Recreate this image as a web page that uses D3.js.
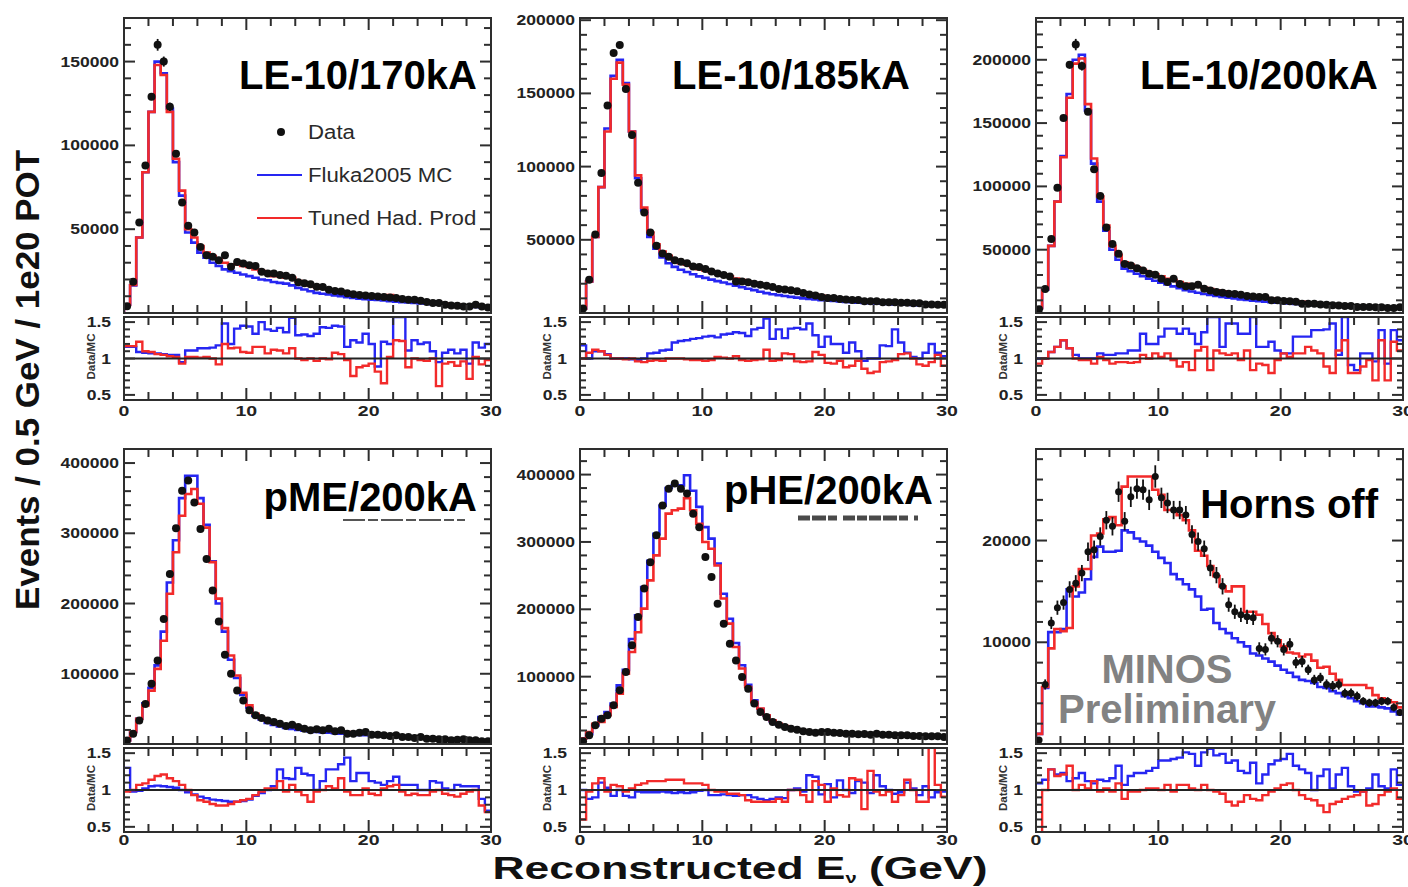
<!DOCTYPE html>
<html><head><meta charset="utf-8">
<script src="https://cdn.jsdelivr.net/npm/d3@7"></script>
<style>
body{margin:0;background:#fff}
svg{display:block;font-family:"Liberation Sans",Arial,Helvetica,sans-serif}
</style></head>
<body><svg id="chart" width="1408" height="887"></svg>
<script>
// ---------------- DATA (events per 0.5 GeV bin, in thousands; 60 bins, 0–30 GeV) ----------------
const binLow = d3.range(0, 30, 0.5);           // bin lower edges (GeV)
const xTickValues = [0, 10, 20, 30];
const ratioTickValues = [0.5, 1, 1.5];

// LE-10/170kA
const data170 = [4,18.7,54,88,129,160,150,123,95,66,52,48,39.4,34.5,33.5,31.5,34.5,27.6,30.5,29.5,28.5,28,24.6,23.6,23.6,22.6,22.2,21,18.3,17.7,17.1,15.7,15.5,13.8,13.2,12.8,11.8,11.2,10.8,10.4,10.2,9.8,9.6,9.3,8.9,8.3,7.9,7.9,7.3,6.5,5.9,5.9,4.9,4.5,4.3,3.9,3.9,4.9,3.9,3.3];
const tuned170 = [5,16.7,45,84,120,148,142,120,92,73,50,45,40,36,34,32,30,29,29,28,27.5,26,25,24,22,22,21,21,19,18,16.5,15.5,14.5,14,13.5,13,12.3,11.8,11.2,10.8,10.4,10.2,9.9,10.7,9.0,8.5,8.2,7.8,7.3,6.8,6.3,6.0,5.6,5.2,4.9,4.6,4.3,4.1,3.8,3.5];
const fluka170 = [5,16.5,45,84,120,150,143,122,90,70,48,42,36,33,30,28,26,25,24,23,22,21,20,19.5,18.5,18,17.5,16.5,15,14,13,12,11.5,11,10.5,10,9.5,9,8.5,8.2,8,7.8,7.5,7,6.8,6.5,6.3,6,5.7,5.5,5.2,5,4.7,4.4,4.2,4.0,3.7,3.6,3.4,3.2];
const ratioFluka170 = [1.16,1.16,1.09,1.08,1.07,1.07,1.06,1.05,1.05,0.95,1.11,1.11,1.14,1.14,1.15,1.18,1.48,1.2,1.41,1.45,1.44,1.34,1.5,1.4,1.38,1.42,1.36,1.56,1.32,1.33,1.31,1.34,1.43,1.42,1.45,1.44,1.16,1.25,1.22,1.34,1.2,0.89,1.23,1.2,1.57,1.57,1.11,1.25,1.2,1.22,1.1,0.95,1.08,1.12,1.07,1.12,0.93,1.22,1.15,1.2];
const ratioTuned170 = [1.17,1.17,1.23,1.1,1.09,1.06,1.05,1.03,1.02,0.93,1.02,1.02,1.01,1.02,1.0,0.92,1.2,1.14,1.15,1.09,1.08,1.16,1.16,1.07,1.12,1.11,1.07,1.14,1.0,0.98,1.0,0.97,1.0,0.99,1.08,1.06,0.98,0.76,0.88,0.9,0.93,0.82,0.66,1.02,1.25,1.24,0.88,1.0,0.98,0.97,1.0,0.62,0.93,0.95,0.9,0.96,0.72,1.02,0.92,0.98];
const err170 = [0,0,0,0,2,3.5,3,2.5,0,0,0,0,0,0,0,0,0,0,0,0,0,0,0,0,0,0,0,0,0,0,0,0,0,0,0,0,0,0,0,0,0,0,0,0,0,0,0,0,0,0,0,0,0,0,0,0,0,0,0,0];

// LE-10/185kA
const data185 = [3,22.7,53.7,95.7,141.7,177.6,183,153,121.5,89,68.7,55,46,40.6,38.4,36,35,34,31.7,31.5,30,28.3,27,26,25,21.6,21.5,21,20,19.3,18.6,17.7,16.4,16,15.5,14.8,13.7,12.6,12,11,10.3,10.2,9.6,9.2,8.9,8.8,8.1,8.1,8.0,7.4,7.4,7.3,7.0,7.0,6.6,6.6,5.8,5.8,5.7,5.6];
const tuned185 = [3,21.5,52,86,124,160,171,156,124,94,72,55,47,42,39,36,34,33,31.5,30,29,28,27,26,25,23.5,22.5,21.5,20.5,19.5,18.5,17.5,16.8,16,15.3,14.6,13.8,13,12.4,11.8,11.2,10.7,10.2,9.7,9.3,9.0,8.6,8.2,7.9,7.6,7.3,7.0,6.8,6.6,6.4,6.2,6.0,5.8,5.6,5.5];
const fluka185 = [3,21.5,52,86,126,162,173,157,124,92,70,52,44,38,34,31.5,29.5,28,26.5,25,24,22.8,21.8,20.8,19.8,18.6,17.6,16.6,15.6,14.5,13.6,12.8,12.2,11.6,11,10.5,10,9.6,9.2,8.8,8.5,8.2,7.9,7.6,7.3,7.1,6.9,6.7,6.5,6.3,6.1,5.9,5.7,5.6,5.5,5.4,5.3,5.2,5.1,5.0];
const ratioFluka185 = [1.18,1.0,1.1,1.1,1.06,1.0,1.0,1.0,0.99,0.98,1.0,1.07,1.08,1.11,1.12,1.22,1.24,1.25,1.27,1.28,1.3,1.31,1.29,1.33,1.34,1.36,1.35,1.31,1.4,1.42,1.55,1.27,1.4,1.28,1.41,1.42,1.4,1.48,1.32,1.16,1.3,1.2,1.2,1.08,1.22,1.1,0.97,1.0,1.0,1.18,1.17,1.4,1.22,1.08,1.02,1.0,1.08,1.2,1.08,1.03];
const ratioTuned185 = [1.0,1.08,1.12,1.1,1.05,1.0,1.0,0.99,1.0,0.96,0.95,0.97,0.98,0.97,1.0,1.0,1.0,0.99,0.98,0.98,0.97,0.98,1.02,1.01,1.0,1.03,0.98,0.97,0.98,0.99,1.12,0.97,0.98,1.07,1.06,0.96,0.95,0.96,1.09,1.05,0.94,0.93,0.97,0.88,0.9,0.97,0.86,0.8,0.82,0.95,0.96,0.98,1.06,1.07,1.0,0.92,0.9,0.95,1.05,0.9];

// LE-10/200kA
const data200 = [3,19,58.5,99,154,196,212,195,159,113.5,92.5,67.6,54.5,46.7,38.8,37.5,35.4,33.6,31,30.2,27,24.4,27,23,21.2,21.2,22.3,19.1,17.8,16.5,16,15.2,15,14.4,13.4,13,12.6,12.6,10,10,9.5,9.2,8.8,7.3,7.3,7.3,6.8,6.6,6.2,6.0,5.6,5.6,4.7,4.7,4.7,4.6,4.5,4.0,4.0,4.5];
const tuned200 = [4,19,53,88,123,170,197,201,165,122,92,69,53,46,40,38,36,34,32,30.5,29,27,26,24.5,23,22,21,20,19,18,17.2,16.4,15.6,14.8,14,13.3,12.6,12,11.4,10.8,10.2,9.7,9.2,8.8,8.4,8,7.6,7.2,6.8,6.5,6.2,5.9,5.6,5.4,5.2,5.0,4.8,4.6,4.4,4.3];
const fluka200 = [4,18.5,53,88,124,173,200,204,160,118,88,65,50,42,35,33,31,29,27,25.5,24,22.5,21,19.5,18,17,16,15,14.2,13.4,12.7,12,11.4,10.8,10.3,9.8,9.3,8.9,8.5,8.1,7.8,7.5,7.2,6.9,6.6,6.4,6.1,5.9,5.6,5.4,5.2,5.0,4.8,4.6,4.4,4.3,4.1,4.0,3.9,3.8];
const ratioFluka200 = [1.0,1.0,1.09,1.16,1.25,1.14,1.05,1.0,1.0,1.0,1.07,1.05,1.05,1.07,1.07,1.11,1.11,1.34,1.2,1.2,1.3,1.41,1.41,1.34,1.41,1.34,1.2,1.36,1.57,1.57,1.16,1.48,1.48,1.34,1.34,1.57,1.16,1.16,1.23,1.11,1.07,1.07,1.3,1.3,1.3,1.39,1.39,1.4,1.48,1.05,1.57,0.91,0.84,1.07,1.07,0.96,1.39,0.93,1.39,1.25];
const ratioTuned200 = [0.93,1.0,1.09,1.16,1.25,1.14,1.0,0.98,0.98,0.93,1.02,0.98,0.93,0.95,0.95,0.94,0.95,1.05,1.0,1.07,1.02,1.07,0.98,0.89,0.95,0.84,1.11,1.16,0.84,1.11,1.07,1.05,1.07,0.98,1.11,0.84,0.93,0.91,0.8,0.98,1.07,1.02,1.07,1.07,1.16,1.11,1.07,0.89,0.8,1.11,1.25,0.8,0.8,0.89,0.98,0.7,1.25,0.7,1.23,1.11];
const err200 = [0,0,0,0,0,3,4.5,3.5,2,0,0,0,0,0,0,0,0,0,0,0,0,0,0,0,0,0,0,0,0,0,0,0,0,0,0,0,0,0,0,0,0,0,0,0,0,0,0,0,0,0,0,0,0,0,0,0,0,0,0,0];

// pME/200kA
const dataME = [5,14.7,33.6,57,85.8,119,178,242,307,360.7,375,344,306,263.5,218.5,174.4,127,100,76.3,62,47.9,40.8,37,33.6,31.3,28.9,25.6,27.5,24.2,21.8,19.4,20.9,19.4,21.8,18,19.4,14.7,14.7,16.1,17,13.3,13.3,12.3,11.4,12.3,10,10,8.5,10,7.6,7.6,6.6,6.6,5.2,6.2,6.6,5.2,5.2,3.8,3.8];
const tunedME = [5,17,36,55,76,107,147,214,273,325,356,363,342,308,259,207,165,126,97.6,73,55,43,37,33,30,28,26.5,25,23.5,22.5,21.5,20.5,19.5,19,18,17.5,17,16,15.5,15,14.2,13.5,13,12.3,11.7,11,10.4,9.8,9.3,8.8,8.3,7.8,7.3,6.9,6.5,6.1,5.7,5.3,4.9,4.5];
const flukaME = [5,17,36,58,80,112,160,230,290,350,382,382,350,312,260,200,160,120,94,70,52,40,35,30,27,25,23,21.5,20,19,18,17,16.5,16,15.3,14.8,14.2,13.6,13,12.5,12,11.6,11.2,10.8,10.3,9.9,9.5,9.1,8.7,8.3,7.9,7.5,7.1,6.7,6.3,5.9,5.5,5.1,4.8,4.4];
const ratioFlukaME = [1.3,0.98,0.99,1.02,1.05,1.06,1.05,1.04,1.03,1.0,0.97,0.94,0.91,0.89,0.87,0.86,0.85,0.84,0.84,0.85,0.87,0.92,0.96,1.0,1.05,1.28,1.16,1.15,1.3,1.22,1.2,1.0,1.12,1.28,1.28,1.35,1.44,1.12,1.23,1.23,1.12,1.1,1.07,1.12,1.18,1.07,1.07,1.07,1.0,1.0,1.12,1.1,1.02,1.0,1.07,1.05,1.05,1.05,0.88,0.72];
const ratioTunedME = [0.98,1.0,1.07,1.09,1.14,1.19,1.21,1.16,1.12,1.07,1.0,0.93,0.86,0.84,0.81,0.79,0.79,0.81,0.84,0.86,0.88,0.93,0.98,1.02,1.02,1.12,0.98,1.07,0.98,0.93,0.84,0.98,1.0,1.05,1.02,1.16,0.98,0.93,0.93,1.02,0.95,0.93,1.02,1.05,1.07,0.98,0.93,0.95,0.93,0.93,0.98,1.0,0.95,0.93,0.91,0.95,0.98,1.0,0.79,0.7];

// pHE/200kA
const dataHE = [4,12.9,27.7,37.6,42.6,57.4,79.7,107,146.5,188.6,230.7,270,310,354,379,386.6,379,371.8,342,322,277.7,248,208.4,178.7,149,124,99.5,82,60,47.5,40,32.7,28.7,25.2,22.8,21.3,18.8,17.8,16.8,17.8,17.8,16.8,16.3,15.3,15.3,14.4,14.8,13.9,15.3,13.9,13.9,12.9,12.9,12.9,11.9,11.9,11.4,11.4,11.4,10.4];
const tunedHE = [8,17.8,30,32.7,42.6,55,74.8,104.5,136.6,166,201,243,280,305,342,347,349.5,365,347,327,300,290,265,216,178.7,144,112,84.7,62.4,52.5,42.6,35,30,26.7,22.8,21.3,19.8,18.5,18,17.6,17.3,17,16.6,16.3,16,15.5,15.2,14.8,14.5,14.2,13.9,13.6,13.3,13,12.7,12.5,12.2,11.9,11.6,11.4];
const flukaHE = [8,15,27.7,40,47.5,60,87,110,156,191,233,272,312,354,380,384,384,399,376,352,322,305,268,223,186,150,117,88,65,52,42,34,29,26,23,21.5,20,19,18.4,17.6,17.2,17,16.6,16.3,16,15.6,15.2,14.9,14.6,14.3,14,13.7,13.4,13.1,12.8,12.5,12.2,11.9,11.6,11.3];
const ratioFlukaHE = [1.0,0.88,0.9,1.1,1.03,0.92,1.0,0.92,0.9,0.98,0.97,0.97,0.97,0.98,0.97,0.96,0.97,0.96,0.97,0.99,1.0,0.93,0.93,0.94,0.93,0.92,0.93,0.93,0.9,0.88,0.86,0.88,0.9,0.89,1.0,1.02,0.98,1.2,1.18,0.94,1.08,0.9,1.13,1.0,0.96,1.12,1.1,0.96,1.2,1.05,1.0,0.95,0.97,1.1,1.02,0.93,1.05,0.9,0.97,0.98];
const ratioTunedHE = [0.6,0.98,1.09,1.16,0.98,1.07,1.05,0.98,1.02,1.07,1.09,1.12,1.12,1.12,1.14,1.14,1.14,1.09,1.09,1.09,1.07,1.0,0.98,0.98,0.95,0.95,0.93,0.86,0.84,0.84,0.84,0.84,0.88,0.84,1.0,1.0,0.93,0.84,1.12,1.07,0.84,1.02,0.93,0.91,1.16,1.14,0.74,1.26,0.98,0.93,0.98,0.84,0.93,1.14,1.0,0.84,0.84,1.7,1.07,0.91];

// Horns off
const dataOff = [0.4,5.85,11.9,13.4,13.9,15.2,15.8,16.8,18.9,19.1,20.4,22,21.4,24.8,21.9,24.3,25.1,25,24,26.3,24.2,23.7,23,23,22.5,20.6,19.9,19.2,17.3,16.6,15.5,13.7,13,12.7,12.5,12.4,9.4,9.3,10.4,10.1,9.3,9.8,8,8.1,7.3,6.3,6.5,5.85,5.7,5.85,5.0,5.0,4.7,4.2,4.05,4.05,4.2,4.2,3.6,3.1];
const tunedOff = [1.0,5.6,9.4,11.3,11.1,11.4,15.5,17.2,17.2,20.5,20.7,22.1,22.3,21.5,25.3,26.3,26.3,26.3,26.3,25,24.5,23,23,22.5,22,21,19,18.5,17.5,16.5,15.5,15,15.5,15.5,13,13,12.7,11.8,10.9,10.2,9.6,9.0,8.9,8.6,8.8,8.2,7.5,7.6,6.9,6.3,5.8,5.8,5.8,5.8,5.5,4.8,4.5,4.3,4.1,3.6];
const flukaOff = [1.0,5.5,11.0,11.0,11.3,15.2,14.5,14.9,16.2,18.4,19.4,18.9,18.9,19.0,21.0,20.8,20.2,19.9,19.5,18.9,18.3,17.8,16.7,16.2,15.7,15.2,14.5,13.2,13.3,11.9,11.3,10.9,10.4,10.0,9.6,8.9,8.7,8.4,8.1,7.7,7.3,7.0,6.6,6.3,6.2,6.0,5.6,5.5,5.2,5.0,4.7,4.5,4.2,4.0,3.7,3.7,3.6,3.5,3.2,2.9];
const ratioFlukaOff = [1.09,1.14,1.28,1.21,1.23,1.12,1.16,1.23,1.12,1.09,1.14,1.12,1.16,1.33,1.07,1.19,1.23,1.23,1.26,1.3,1.4,1.4,1.42,1.44,1.51,1.49,1.33,1.51,1.56,1.47,1.49,1.37,1.4,1.26,1.23,1.37,1.09,1.21,1.35,1.4,1.42,1.49,1.33,1.28,1.23,1.0,1.19,1.28,1.02,1.21,1.3,1.05,0.98,0.98,1.02,1.21,1.05,1.02,1.28,1.07];
const ratioTunedOff = [0.42,1.0,1.28,1.19,1.21,1.33,1.0,1.07,1.02,1.12,0.98,1.02,0.98,1.09,0.88,0.98,0.98,1.0,1.02,1.02,1.0,1.07,0.98,1.07,1.07,1.02,1.0,1.07,1.0,0.98,0.95,0.84,0.79,0.84,0.93,0.88,0.86,0.93,0.98,1.02,1.07,1.09,1.0,0.93,0.88,0.86,0.79,0.7,0.81,0.84,0.88,0.91,0.93,0.98,0.79,0.81,0.93,0.98,1.02,0.88];
const errOff = [0.3,0.5,0.6,0.7,0.7,0.8,0.8,0.8,0.9,0.9,0.9,0.9,0.9,1.0,0.9,1.0,1.0,1.0,1.0,1.1,1.0,1.0,0.9,0.9,0.9,0.9,0.9,0.8,0.8,0.8,0.8,0.7,0.7,0.7,0.7,0.7,0.6,0.6,0.6,0.6,0.6,0.6,0.55,0.55,0.5,0.5,0.5,0.5,0.5,0.5,0.45,0.45,0.45,0.4,0.4,0.4,0.4,0.4,0.4,0.35];

// y tick labels (thousands of events) per panel
const yTicks170 = [50,100,150], yTicks185 = [50,100,150,200], yTicks200 = [50,100,150,200];
const yTicksME = [100,200,300,400], yTicksHE = [100,200,300,400], yTicksOff = [10,20];

const titles = ["LE-10/170kA","LE-10/185kA","LE-10/200kA","pME/200kA","pHE/200kA","Horns off"];
const legendLabels = ["Data","Fluka2005 MC","Tuned Had. Prod"];

// ---------------- LAYOUT ----------------
const BLUE = "#2626f2", RED = "#f22a2a", FRAME = "#2e2e2e";
const panels = [
  {data:data170, fluka:fluka170, tuned:tuned170, rF:ratioFluka170, rT:ratioTuned170, err:err170, ticks:yTicks170, yMax:176, minor:10, tx:477, ty:89, r:4},
  {data:data185, fluka:fluka185, tuned:tuned185, rF:ratioFluka185, rT:ratioTuned185, err:null, ticks:yTicks185, yMax:201.5, minor:10, tx:910, ty:89, r:4},
  {data:data200, fluka:fluka200, tuned:tuned200, rF:ratioFluka200, rT:ratioTuned200, err:err200, ticks:yTicks200, yMax:233, minor:10, tx:1378, ty:89, r:4},
  {data:dataME, fluka:flukaME, tuned:tunedME, rF:ratioFlukaME, rT:ratioTunedME, err:null, ticks:yTicksME, yMax:420, minor:20, tx:477, ty:511, r:4},
  {data:dataHE, fluka:flukaHE, tuned:tunedHE, rF:ratioFlukaHE, rT:ratioTunedHE, err:null, ticks:yTicksHE, yMax:438, minor:20, tx:933, ty:504, r:4},
  {data:dataOff, fluka:flukaOff, tuned:tunedOff, rF:ratioFlukaOff, rT:ratioTunedOff, err:errOff, ticks:yTicksOff, yMax:29, minor:2, tx:1378, ty:518, r:3.5}
];
const colX = [124, 580, 1036], W = 367;
const rowY = [{top:18, mainBot:313, rTop:317, rBot:400, lab:416}, {top:449, mainBot:744, rTop:748, rBot:832, lab:845}];

const svg = d3.select("#chart");
const defs = svg.append("defs");

function stretch(sel, f){
  sel.each(function(){
    const L = this.getComputedTextLength();
    d3.select(this).attr("textLength", L*f).attr("lengthAdjust","spacingAndGlyphs");
  });
}

panels.forEach((p, i) => {
  const x0 = colX[i%3], x1 = x0 + W, R = rowY[Math.floor(i/3)];
  const x = d3.scaleLinear().domain([0,30]).range([x0,x1]);
  const y = d3.scaleLinear().domain([0,p.yMax]).range([R.mainBot,R.top]);
  const yr = d3.scaleLinear().domain([0.43,1.57]).range([R.rBot,R.rTop]);
  const g = svg.append("g");

  defs.append("clipPath").attr("id","cm"+i).append("rect")
    .attr("x",x0).attr("y",R.top).attr("width",W).attr("height",R.mainBot-R.top);
  defs.append("clipPath").attr("id","cr"+i).append("rect")
    .attr("x",x0).attr("y",R.rTop).attr("width",W).attr("height",R.rBot-R.rTop);

  const step = (vals, ys, start) => {
    const pts = vals.map((v,k)=>[binLow[k], v]);
    pts.push([30, vals[vals.length-1]]);
    if (start !== undefined) pts.unshift([0,start]);
    return d3.line().x(d=>x(d[0])).y(d=>ys(d[1])).curve(d3.curveStepAfter)(pts);
  };

  // main histograms
  const gm = g.append("g").attr("clip-path",`url(#cm${i})`);
  gm.append("path").attr("d",step(p.fluka,y,0)).attr("fill","none").attr("stroke",BLUE).attr("stroke-width",2.6);
  gm.append("path").attr("d",step(p.tuned,y,0)).attr("fill","none").attr("stroke",RED).attr("stroke-width",2.6);
  // data with error bars
  const cx = k => x(binLow[k] + 0.25);
  if (p.err) {
    gm.selectAll(".eb").data(p.data).join("line")
      .attr("x1",(d,k)=>cx(k)).attr("x2",(d,k)=>cx(k))
      .attr("y1",(d,k)=>y(d - p.err[k])).attr("y2",(d,k)=>y(d + p.err[k]))
      .attr("stroke","#111").attr("stroke-width",1.8);
  }
  gm.selectAll(".pt").data(p.data).join("circle")
    .attr("cx",(d,k)=>cx(k)).attr("cy",d=>y(d)).attr("r",p.r).attr("fill","#111");

  // ratio histograms
  const gr = g.append("g").attr("clip-path",`url(#cr${i})`);
  gr.append("path").attr("d",step(p.rF,yr)).attr("fill","none").attr("stroke",BLUE).attr("stroke-width",2.4);
  gr.append("path").attr("d",step(p.rT,yr)).attr("fill","none").attr("stroke",RED).attr("stroke-width",2.4);
  gr.append("line").attr("x1",x0).attr("x2",x1).attr("y1",yr(1)).attr("y2",yr(1))
    .attr("stroke","#222").attr("stroke-width",2);

  // frames
  g.append("rect").attr("x",x0).attr("y",R.top).attr("width",W).attr("height",R.mainBot-R.top)
    .attr("fill","none").attr("stroke",FRAME).attr("stroke-width",2);
  g.append("rect").attr("x",x0).attr("y",R.rTop).attr("width",W).attr("height",R.rBot-R.rTop)
    .attr("fill","none").attr("stroke",FRAME).attr("stroke-width",2);

  // ticks
  const tk = g.append("g").attr("stroke",FRAME).attr("stroke-width",2);
  const xt = d3.range(0, 30.001, 2);
  [[R.top,1],[R.mainBot,-1],[R.rTop,1],[R.rBot,-1]].forEach(([yy,dir])=>{
    xt.forEach(e=>{
      const L = (e % 10 === 0) ? 12 : 8;
      tk.append("line").attr("x1",x(e)).attr("x2",x(e)).attr("y1",yy).attr("y2",yy+dir*L);
    });
  });
  d3.range(0, p.yMax+1e-9, p.minor).forEach(v=>{
    const L = p.ticks.includes(Math.round(v*100)/100) ? 11 : 7;
    tk.append("line").attr("x1",x0).attr("x2",x0+L).attr("y1",y(v)).attr("y2",y(v));
    tk.append("line").attr("x1",x1).attr("x2",x1-L).attr("y1",y(v)).attr("y2",y(v));
  });
  d3.range(0.5, 1.5001, 0.1).forEach(v=>{
    const major = Math.abs(v-0.5)<1e-6 || Math.abs(v-1)<1e-6 || Math.abs(v-1.5)<1e-6;
    const L = major ? 11 : 6;
    tk.append("line").attr("x1",x0).attr("x2",x0+L).attr("y1",yr(v)).attr("y2",yr(v));
    tk.append("line").attr("x1",x1).attr("x2",x1-L).attr("y1",yr(v)).attr("y2",yr(v));
  });

  // y tick labels
  const yl = g.selectAll(".yl").data(p.ticks).join("text")
    .attr("x",x0-5).attr("y",d=>y(d)).attr("dy","0.36em").attr("text-anchor","end")
    .attr("font-size",14).attr("font-weight","bold").attr("fill","#222")
    .text(d=>d3.format("d")(d*1000));
  stretch(yl, 1.25);
  const rl = g.selectAll(".rl").data(ratioTickValues).join("text")
    .attr("x",x0-13).attr("y",d=>yr(d)).attr("dy","0.36em").attr("text-anchor","end")
    .attr("font-size",14).attr("font-weight","bold").attr("fill","#222")
    .text(d=>d3.format("")(d));
  stretch(rl, 1.25);
  const dm = g.append("text").attr("transform",`translate(${x0-29},${yr(1)-2}) rotate(-90)`)
    .attr("text-anchor","middle").attr("font-size",10).attr("font-weight","bold").attr("fill","#333")
    .text("Data/MC");
  stretch(dm, 1.15);
  const xl = g.selectAll(".xl").data(xTickValues).join("text")
    .attr("x",d=>x(d)).attr("y",R.lab).attr("text-anchor","middle")
    .attr("font-size",15).attr("font-weight","bold").attr("fill","#222").text(d=>d);
  stretch(xl, 1.3);

  // panel title
  g.append("text").attr("x",p.tx).attr("y",p.ty).attr("text-anchor","end")
    .attr("font-size",40).attr("font-weight","bold").attr("fill","#000").text(titles[i]);
});

// partly hidden overprint under the pME and pHE titles
svg.append("line").attr("x1",343).attr("x2",465).attr("y1",520).attr("y2",520)
  .attr("stroke","#555").attr("stroke-width",1.8).attr("stroke-dasharray","22 3 10 3");
svg.append("line").attr("x1",798).attr("x2",918).attr("y1",518).attr("y2",518)
  .attr("stroke","#4a4a4a").attr("stroke-width",5).attr("stroke-dasharray","12 2 14 2 9 6 12 2 10 2");

// legend (first panel)
const lg = svg.append("g");
lg.append("circle").attr("cx",281).attr("cy",132).attr("r",4).attr("fill","#111");
lg.append("line").attr("x1",257).attr("x2",302).attr("y1",175).attr("y2",175).attr("stroke",BLUE).attr("stroke-width",2.2);
lg.append("line").attr("x1",257).attr("x2",302).attr("y1",218).attr("y2",218).attr("stroke",RED).attr("stroke-width",2.2);
const lt = lg.selectAll(".lt").data(legendLabels).join("text")
  .attr("x",308).attr("y",(d,k)=>[139,182,225][k]).attr("font-size",20).attr("fill","#2a2a2a").text(d=>d);
stretch(lt, 1.11);

// MINOS Preliminary
svg.append("text").attr("x",1167).attr("y",683).attr("text-anchor","middle")
  .attr("font-size",40).attr("font-weight","bold").attr("fill","#828282").text("MINOS");
svg.append("text").attr("x",1167).attr("y",723).attr("text-anchor","middle")
  .attr("font-size",40).attr("font-weight","bold").attr("fill","#828282").text("Preliminary");

// axis titles
const yt = svg.append("text").attr("transform","translate(39,380) rotate(-90)")
  .attr("text-anchor","middle").attr("font-size",33).attr("font-weight","bold").attr("fill","#111")
  .text("Events / 0.5 GeV / 1e20 POT");
yt.attr("textLength",460).attr("lengthAdjust","spacingAndGlyphs");
const xtt = svg.append("text").attr("x",740).attr("y",879).attr("text-anchor","middle")
  .attr("font-size",31).attr("font-weight","bold").attr("fill","#111");
xtt.append("tspan").text("Reconstructed E");
xtt.append("tspan").attr("font-size",14).attr("dy",4).text("ν");
xtt.append("tspan").attr("dy",-4).text(" (GeV)");
xtt.attr("textLength",495).attr("lengthAdjust","spacingAndGlyphs");
</script>
</body></html>
